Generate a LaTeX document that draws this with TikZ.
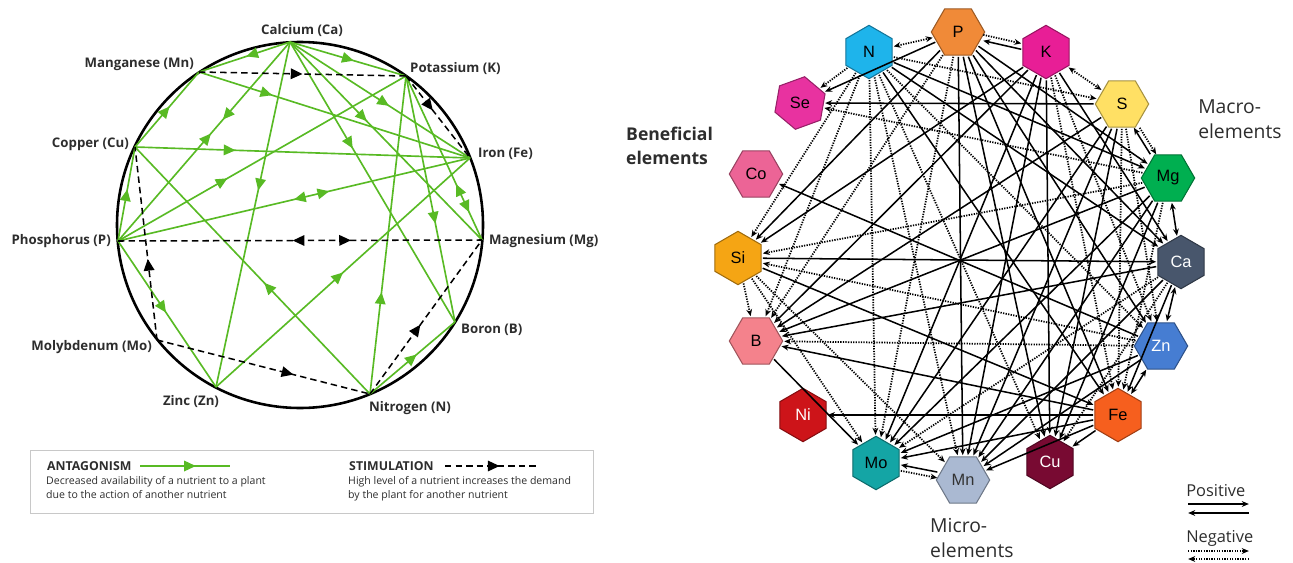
\documentclass[tikz,border=0pt]{standalone}
\usepackage{fontspec}
\setmainfont{Open Sans}
\newfontfamily\hexfont{Liberation Sans}
\usepackage{tikz}
\usetikzlibrary{shapes.geometric, arrows.meta, positioning, calc, decorations.markings}
\definecolor{antgreen}{RGB}{88,186,36}
\definecolor{boxgray}{RGB}{200,200,200}
\definecolor{lbldark}{RGB}{45,45,45}
\definecolor{hxP}{RGB}{240,138,56}
\definecolor{hxN}{RGB}{30,180,235}
\definecolor{hxK}{RGB}{232,30,150}
\definecolor{hxSe}{RGB}{232,50,160}
\definecolor{hxS}{RGB}{255,224,100}
\definecolor{hxCo}{RGB}{236,100,150}
\definecolor{hxMg}{RGB}{0,175,80}
\definecolor{hxSi}{RGB}{245,165,20}
\definecolor{hxCa}{RGB}{72,86,108}
\definecolor{hxB}{RGB}{244,130,140}
\definecolor{hxZn}{RGB}{70,125,210}
\definecolor{hxNi}{RGB}{205,20,25}
\definecolor{hxFe}{RGB}{246,95,30}
\definecolor{hxMo}{RGB}{20,165,165}
\definecolor{hxMn}{RGB}{170,185,210}
\definecolor{hxCu}{RGB}{120,10,50}
\tikzset{
  wlbl/.style={font=\bfseries\fontsize{11.3}{13}\selectfont, text=lbldark, inner sep=0pt},
  legtitle/.style={font=\bfseries\fontsize{10.5}{12}\selectfont, text=lbldark, inner sep=0pt},
  legtext/.style={font=\fontsize{9}{12}\selectfont, text=lbldark, inner sep=0pt, align=left},
  antag/.style={antgreen, line width=1.4pt},
  stim/.style={black, line width=1.3pt, dash pattern=on 5.5pt off 3.5pt},
  midarr/.style={postaction={decorate, decoration={markings,
    mark=at position #1 with {\arrow{Triangle[length=10pt,width=9pt]}}}}},
  midrev/.style={postaction={decorate, decoration={markings,
    mark=at position #1 with {\arrowreversed{Triangle[length=10pt,width=9pt]}}}}},
  hexa/.style={regular polygon, regular polygon sides=6, minimum size=1.6cm,
    inner sep=0pt, line width=0.9pt, font=\hexfont\fontsize{14}{16}\selectfont},
  posarr/.style={->, line width=1.3pt, black, shorten >=1pt, shorten <=1pt},
  negarr/.style={->, line width=1.5pt, black, dash pattern=on 1.1pt off 1.1pt,
    shorten >=1pt, shorten <=1pt},
  bothpos/.style={posarr, <->},
  bothneg/.style={negarr, <->},
  grp/.style={font=\fontsize{16.5}{21}\selectfont, text=lbldark, inner sep=0pt, align=left}
}

\begin{document}
\begin{tikzpicture}[x=0.03cm, y=-0.03cm, >={Stealth[length=6pt,width=5pt]}]
  \useasboundingbox (0,0) rectangle (1293,562);

  % nutrient wheel
  \draw[line width=2.2pt] (300,225) circle (183);
  \foreach \nm/\x/\y in {Ca/290/42, Mn/199/72, K/406/76, Cu/135/147, Fe/470/158,
      P/118/241, Mg/482/240, Mo/157/340, B/455/322, Zn/216/387, N/370/394}
    \coordinate (w\nm) at (\x,\y);

  % antagonism
  \draw[antag, midarr=0.48] (wCa) -- (wMn);
  \draw[antag, midarr=0.55] (wCa) -- (wK);
  \draw[antag, midarr=0.55] (wCa) -- (wFe);
  \draw[antag, midarr=0.4] (wCa) -- (wMg);
  \draw[antag, midarr=0.38] (wCa) -- (wB);
  \draw[antag, midarr=0.43] (wCa) -- (wZn);
  \draw[antag, midarr=0.39, midrev=0.46] (wCa) -- (wP);
  \draw[antag, midarr=0.27] (wMn) -- (wFe);
  \draw[antag, midarr=0.54] (wCu) -- (wMn);
  \draw[antag, midarr=0.3] (wCu) -- (wFe);
  \draw[antag, midarr=0.55] (wP) -- (wCu);
  \draw[antag, midarr=0.38] (wP) -- (wK);
  \draw[antag, midrev=0.5, midarr=0.6] (wP) -- (wFe);
  \draw[antag, midarr=0.49] (wP) -- (wZn);
  \draw[antag, midarr=0.5] (wZn) -- (wFe);
  \draw[antag, midarr=0.45] (wN) -- (wCu);
  \draw[antag, midarr=0.32] (wN) -- (wK);
  \draw[antag, midarr=0.55] (wN) -- (wB);
  \draw[antag, midarr=0.6] (wK) -- (wB);
  \draw[antag, midrev=0.66, midarr=0.83] (wK) -- (wMg);

  % stimulation
  \draw[stim, midarr=0.5] (wMn) -- (wK);
  \draw[stim, midarr=0.42] (wK) -- (wFe);
  \draw[stim, midrev=0.48, midarr=0.64] (wP) -- (wMg);
  \draw[stim, midarr=0.42] (wMo) -- (wCu);
  \draw[stim, midarr=0.64] (wMo) -- (wN);
  \draw[stim, midarr=0.45] (wN) -- (wMg);

  % element names
  \node[wlbl] (tCa) at (302,31) {Calcium (Ca)};
  \node[wlbl, anchor=east] (tMn) at (194,64) {Manganese (Mn)};
  \node[wlbl, anchor=west] (tK) at (410,69) {Potassium (K)};
  \node[wlbl, anchor=east] (tCu) at (129,144) {Copper (Cu)};
  \node[wlbl, anchor=west] (tFe) at (478,154) {Iron (Fe)};
  \node[wlbl, anchor=east] (tP) at (111,241) {Phosphorus (P)};
  \node[wlbl, anchor=west] (tMg) at (489,241) {Magnesium (Mg)};
  \node[wlbl, anchor=east] (tMo) at (152,347) {Molybdenum (Mo)};
  \node[wlbl, anchor=west] (tB) at (461,330) {Boron (B)};
  \node[wlbl] (tZn) at (191,402) {Zinc (Zn)};
  \node[wlbl] (tN) at (410,408) {Nitrogen (N)};

  % legend
  \draw[boxgray, line width=0.8pt] (30,450) rectangle (593,513);
  \node[legtitle, anchor=west] (tAnt) at (47,466) {ANTAGONISM};
  \coordinate (antA) at (140,466);
  \coordinate (antB) at (230,466);
  \draw[antag, midarr=0.62] (antA) -- (antB);
  \node[legtext, anchor=north west] (dAnt) at (46,476)
    {Decreased availability of a nutrient to a plant\\due to the action of another nutrient};
  \node[legtitle, anchor=west] (tSti) at (349,466) {STIMULATION};
  \coordinate (stiA) at (445,466);
  \coordinate (stiB) at (536,466);
  \draw[stim, midarr=0.6] (stiA) -- (stiB);
  \node[legtext, anchor=north west] (dSti) at (348,476)
    {High level of a nutrient increases the demand\\by the plant for another nutrient};

  % hexagon ring
  \foreach \nm/\x/\y/\rot/\tc in {P/958/32/0/black, N/869/52/30/black, K/1046/52/30/black,
      Se/800/103/20/black, S/1122/104/0/black, Co/756/174/0/black, Mg/1168/178/0/black,
      Si/738/258/30/black, Ca/1181/262/30/white, B/756/341/0/black, Zn/1161/346/0/white,
      Ni/803/415/30/white, Fe/1118/415/30/black, Mo/876/463/30/black, Mn/963/480/0/black!80,
      Cu/1050/462/30/white}
    \node[hexa, fill=hx\nm, draw=hx\nm!65!black, shape border rotate=\rot, text=\tc]
      (h\nm) at (\x,\y) {\nm};

  % positive links
  \foreach \a/\b in {P/Se, P/Si, P/Mn, P/Fe, P/Zn, P/Cu, P/Mg, P/Ca,
      K/Si, K/Mo, K/Mn, K/Cu, K/Ca, K/B, N/Mg, N/Ca, N/Fe,
      S/Se, S/Mo, S/Mn, S/Cu, S/B, Mg/B, Mg/Mo, Mg/Mn, Mg/Cu,
      Ca/B, Ca/Mn, Ca/Fe, Si/Ca, Si/Fe, Zn/Co, Zn/Mo, Zn/Mn,
      Fe/B, Fe/Mo, Fe/Mn, Fe/Ni, Fe/Cu, B/Mo}
    \draw[posarr] (h\a) -- (h\b);
  % negative links
  \foreach \a/\b in {N/Se, N/B, N/Mo, N/Mn, N/Cu, N/Zn, N/S, N/Si,
      P/B, P/Mo, K/Fe, K/Zn, S/Fe, S/Zn, Mg/Se, Mg/Si, Mg/Fe,
      Ca/Mo, Ca/Cu, Zn/B, Zn/Si, Si/Mo, Si/Mn, Si/B}
    \draw[negarr] (h\a) -- (h\b);
  % two-way links
  \draw[bothneg] (hN) -- (hP);
  \draw[bothneg] (hK) -- (hS);
  \draw[bothpos] (hMg) -- (hCa);
  \draw[bothpos] (hCa) -- (hZn);
  \draw[bothpos] (hZn) -- (hFe);
  \draw[negarr, transform canvas={yshift=2.5pt}] (hP) -- (hK);
  \draw[posarr, transform canvas={yshift=-2.5pt}] (hK) -- (hP);
  \draw[negarr, transform canvas={xshift=2.5pt}] (hS) -- (hMg);
  \draw[posarr, transform canvas={xshift=-2.5pt}] (hMg) -- (hS);
  \draw[posarr, transform canvas={yshift=2.5pt}] (hMn) -- (hMo);
  \draw[negarr, transform canvas={yshift=-2.5pt}] (hMo) -- (hMn);

  % group names
  \node[grp, anchor=west, font=\bfseries\fontsize{15}{21}\selectfont] (gBen) at (626,146) {Beneficial\\elements};
  \node[grp, anchor=west] (gMac) at (1198,119) {Macro-\\elements};
  \node[grp, anchor=west] (gMic) at (930,538) {Micro-\\elements};

  % key
  \node[grp, anchor=west, font=\fontsize{14}{16}\selectfont] (kPos) at (1186,491) {Positive};
  \coordinate (kp1) at (1187,504);
  \coordinate (kp2) at (1250,504);
  \coordinate (kp3) at (1187,513);
  \coordinate (kp4) at (1250,513);
  \draw[posarr] (kp1) -- (kp2);
  \draw[posarr] (kp4) -- (kp3);
  \node[grp, anchor=west, font=\fontsize{14}{16}\selectfont] (kNeg) at (1186,538) {Negative};
  \coordinate (kn1) at (1187,551);
  \coordinate (kn2) at (1250,551);
  \coordinate (kn3) at (1187,559);
  \coordinate (kn4) at (1250,559);
  \draw[negarr] (kn1) -- (kn2);
  \draw[negarr] (kn4) -- (kn3);
\end{tikzpicture}
\end{document}
